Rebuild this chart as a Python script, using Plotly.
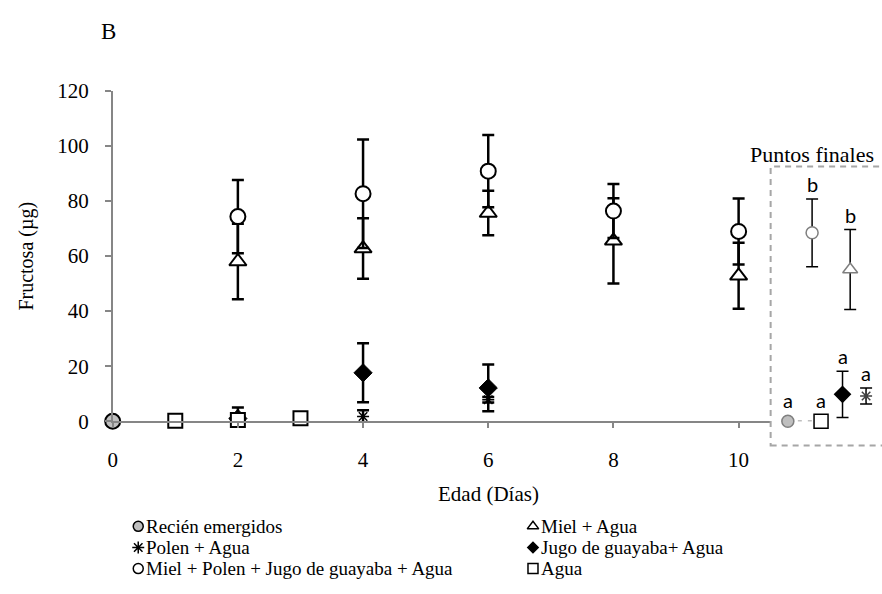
import plotly.graph_objects as go

W, H = 882, 594
SERIF = "Liberation Serif, Times New Roman, DejaVu Serif, serif"
SANS = "Lato, Open Sans, sans-serif"

# ---- time-course data (Edad en días, fructosa en µg) ----
dias_mpj = [2, 4, 6, 8, 10]
mpj = [74.3, 82.6, 90.8, 76.3, 68.9]
mpj_err = [13.3, 19.7, 13.1, 9.8, 12.0]

dias_miel = [2, 4, 6, 8, 10]
miel = [58.0, 62.7, 75.6, 65.5, 52.8]
miel_err = [13.7, 11.0, 8.1, 15.5, 12.0]

dias_jugo = [2, 4, 6]
jugo = [1.0, 17.6, 12.1]
jugo_err = [4.0, 10.7, 8.5]

dias_polen = [2, 4, 6]
polen = [0.8, 1.7, 7.8]
polen_err = [1.5, 2.3, 1.0]

dias_agua = [1, 2, 3]
agua = [0.2, 0.5, 1.1]

dias_recien = [0]
recien = [0.0]

# ---- end points ----
final_names = ["Recién emergidos", "Miel + Polen + Jugo de guayaba + Agua", "Agua",
               "Jugo de guayaba+ Agua", "Miel + Agua", "Polen + Agua"]
final_vals = [0.0, 68.4, 0.0, 9.8, 55.1, 9.2]
final_err = [0.0, 12.3, 0.0, 8.4, 14.5, 2.9]
final_letters = ["a", "b", "a", "a", "b", "a"]
final_pos = [18.3, 42.7, 51.7, 73.3, 81.0, 97.0]   # px offsets inside the end-point panel

x_ticks = [0, 2, 4, 6, 8, 10]
y_ticks = [0, 20, 40, 60, 80, 100, 120]

# legend entries (label, symbol, fill, outline)
legend_items = [
    ("Recién emergidos", "circle", "#bfbfbf", "#000000"),
    ("Miel + Agua", "triangle-up", "#ffffff", "#000000"),
    ("Polen + Agua", "asterisk-open", "#000000", "#000000"),
    ("Jugo de guayaba+ Agua", "diamond", "#000000", "#000000"),
    ("Miel + Polen + Jugo de guayaba + Agua", "circle", "#ffffff", "#000000"),
    ("Agua", "square", "#ffffff", "#000000"),
]


def px(p):
    return p / W


def py(p):
    return (H - p) / H


# plot frame geometry (pixels)
X0, XEND, Y0, YTOP = 108.3, 769.0, 426.5, 82.0
PX_PER_DAY = 62.95
AXIS = "#868686"

fig = go.Figure()


def series(x, y, err, symbol, size, fill, line_w=2, err_vis=True):
    fig.add_trace(go.Scatter(
        x=x, y=y, mode="markers", cliponaxis=False, showlegend=False,
        marker=dict(symbol=symbol, size=size, color=fill,
                    line=dict(color="#000000", width=line_w)),
        error_y=dict(type="data", array=err, visible=err_vis,
                     color="#000000", thickness=2.5, width=6),
    ))


series(dias_recien, recien, [0], "circle", 15, "#bfbfbf", err_vis=False)
series(dias_miel, miel, miel_err, "triangle-up", 15, "#ffffff")
series(dias_polen, polen, polen_err, "asterisk-open", 10, "#000000", line_w=1.5)
series(dias_jugo, jugo, jugo_err, "diamond", 14, "#000000", line_w=1)
series(dias_mpj, mpj, mpj_err, "circle", 15, "#ffffff")
series(dias_agua, agua, [0, 0, 0], "square", 14, "#ffffff", err_vis=False)

# ---- end-point panel (second x axis sharing the y axis) ----
fig.add_trace(go.Scatter(
    x=[final_pos[0], final_pos[2]], y=[final_vals[0], final_vals[2]],
    xaxis="x2", yaxis="y", mode="lines", showlegend=False, cliponaxis=False,
    line=dict(color="#7f7f7f", width=1.5, dash="4px,6px"),
))

final_style = [
    ("circle", 12, "#bfbfbf", "#7f7f7f"),
    ("circle", 12, "#ffffff", "#7f7f7f"),
    ("square", 14, "#ffffff", "#000000"),
    ("diamond", 12, "#000000", "#000000"),
    ("triangle-up", 13, "#ffffff", "#7f7f7f"),
    ("asterisk-open", 10, "#404040", "#404040"),
]
for i, (sym, size, fill, edge) in enumerate(final_style):
    fig.add_trace(go.Scatter(
        x=[final_pos[i]], y=[final_vals[i]], xaxis="x2", yaxis="y",
        mode="markers", cliponaxis=False, showlegend=False, name=final_names[i],
        marker=dict(symbol=sym, size=size, color=fill, line=dict(color=edge, width=1.5)),
        error_y=dict(type="data", array=[final_err[i]], visible=final_err[i] > 0,
                     color="#000000", thickness=1.5, width=6),
    ))
    fig.add_annotation(
        x=final_pos[i], y=final_vals[i] + final_err[i], xref="x2", yref="y",
        text=final_letters[i], showarrow=False, yanchor="middle",
        yshift=15 if final_err[i] > 0 else 21,
        font=dict(family=SANS, size=20, color="#000000"),
    )

# ---- legend drawn on an overlay in pixel coordinates ----
leg_cols = [134, 531]
leg_rows = [536, 558, 580]
for i, (label, sym, fill, edge) in enumerate(legend_items):
    cx, cy = leg_cols[i % 2], leg_rows[i // 2]
    fig.add_trace(go.Scatter(
        x=[cx], y=[cy], xaxis="x3", yaxis="y3", mode="markers", showlegend=False,
        cliponaxis=False,
        marker=dict(symbol=sym, size=10 if sym != "diamond" else 8, color=fill,
                    line=dict(color=edge, width=1.5)),
    ))
    fig.add_annotation(
        x=cx + 7, y=cy, xref="x3", yref="y3", text=label, showarrow=False,
        xanchor="left", yanchor="middle", borderpad=0,
        font=dict(family=SERIF, size=19, color="#000000"),
    )

# dashed frame around the end points
fig.add_shape(type="rect", xref="paper", yref="paper",
              x0=px(770), x1=px(900), y0=py(451.7), y1=py(161),
              line=dict(color="#a6a6a6", width=2, dash="6px,5px"))

fig.add_annotation(x=px(747), y=py(148), xref="paper", yref="paper", text="Puntos finales",
                   showarrow=False, xanchor="left", yanchor="middle",
                   font=dict(family=SERIF, size=22, color="#000000"))
fig.add_annotation(x=px(95), y=py(20), xref="paper", yref="paper", text="B",
                   showarrow=False, xanchor="left", yanchor="middle",
                   font=dict(family=SERIF, size=23, color="#000000"))
fig.add_annotation(x=px(22), y=py(254), xref="paper", yref="paper", text="Fructosa (µg)",
                   textangle=-90, showarrow=False, xanchor="center", yanchor="middle",
                   font=dict(family=SERIF, size=20, color="#000000"))
fig.add_annotation(x=px(486), y=py(502), xref="paper", yref="paper", text="Edad (Días)",
                   showarrow=False, xanchor="center", yanchor="middle",
                   font=dict(family=SERIF, size=21, color="#000000"))

fig.update_layout(
    width=W, height=H, margin=dict(l=0, r=0, t=0, b=0),
    paper_bgcolor="#ffffff", plot_bgcolor="rgba(0,0,0,0)",
    font=dict(family=SERIF, size=20, color="#000000"),
    xaxis=dict(domain=[px(X0), px(XEND)], range=[0, (XEND - X0) / PX_PER_DAY],
               tickvals=x_ticks, showline=True, linecolor=AXIS, linewidth=1.5,
               ticks="outside", ticklen=5, tickcolor=AXIS, tickwidth=1.5,
               ticklabelstandoff=14, showgrid=False, zeroline=False, anchor="y",
               tickfont=dict(family=SERIF, size=21)),
    yaxis=dict(domain=[py(Y0), py(YTOP)], range=[0, 120], tickvals=y_ticks,
               showline=True, linecolor=AXIS, linewidth=1.5,
               ticks="outside", ticklen=6, tickcolor=AXIS, tickwidth=1.5,
               ticklabelstandoff=12, showgrid=False, zeroline=False, anchor="x",
               tickfont=dict(family=SERIF, size=21)),
    xaxis2=dict(domain=[px(XEND), 1.0], range=[0, W - XEND], anchor="y",
                visible=False, showgrid=False, zeroline=False),
    xaxis3=dict(domain=[0, 1], range=[0, W], anchor="y3", visible=False,
                showgrid=False, zeroline=False),
    yaxis3=dict(domain=[0, 1], range=[H, 0], anchor="x3", visible=False,
                showgrid=False, zeroline=False),
)

fig.write_html("out.html")
